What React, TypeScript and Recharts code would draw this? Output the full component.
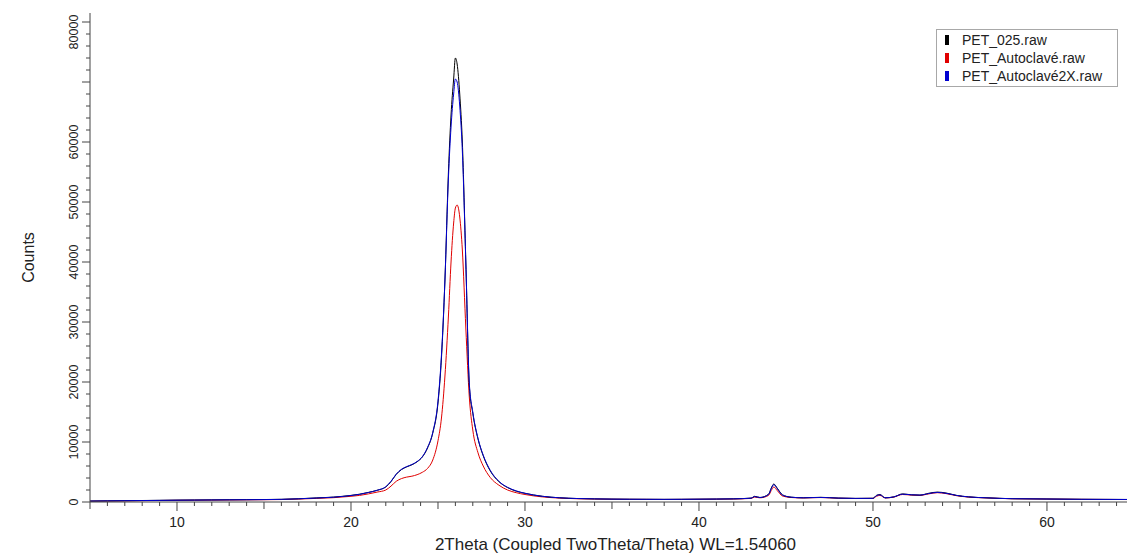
import { LineChart, Line, XAxis, YAxis } from 'recharts';

// 2Theta positions (deg) and counts
const twoTheta = [
  5, 6, 7, 8, 9, 10, 11, 12, 13, 14,
  15, 16, 17, 18, 19, 20, 20.5, 21, 21.5, 22,
  22.3, 22.6, 22.9, 23.2, 23.5, 23.8, 24.1, 24.4, 24.7, 25.0,
  25.2, 25.4, 25.6, 25.75, 25.9, 26.0, 26.1, 26.25, 26.4, 26.6,
  26.8, 27.0, 27.3, 27.6, 28.0, 28.5, 29.0, 29.5, 30, 31,
  32, 33, 34, 35, 36, 37, 38, 39, 40, 41,
  42, 43, 43.2, 43.5, 44.0, 44.15, 44.3, 44.5, 44.8, 45.3,
  46, 47, 48, 49, 50, 50.2, 50.4, 50.7, 51.2, 51.7,
  52.2, 52.7, 53.2, 53.7, 54.2, 54.8, 55.5, 56.5, 58, 60,
  62, 64.6,
];

const pet025 = [
  160, 190, 220, 250, 280, 310, 330, 350, 370, 390,
  410, 450, 540, 680, 820, 1100, 1300, 1600, 1950, 2500,
  3400, 4600, 5400, 5850, 6200, 6700, 7500, 9000, 11500, 16500,
  24000, 37000, 55000, 64500, 70500, 74000, 73000, 68000, 60000, 40000,
  19500, 14800, 10500, 7700, 5200, 3400, 2400, 1800, 1450, 950,
  700, 580, 520, 480, 460, 450, 440, 450, 470, 490,
  530, 650, 950, 750, 1300, 2300, 3000, 2300, 1200, 800,
  700, 780, 650, 600, 620, 1100, 1250, 700, 850, 1350,
  1200, 1150, 1450, 1650, 1500, 1100, 850, 700, 550, 500,
  450, 420,
];

const petAutoclave = [
  130, 160, 190, 220, 250, 280, 300, 320, 340, 360,
  380, 410, 490, 600, 720, 950, 1100, 1350, 1650, 2000,
  2650, 3450, 3900, 4150, 4300, 4550, 4950, 5600, 7000, 10200,
  14000, 21000, 31000, 40000, 46500, 49000, 49500, 47500, 42000, 29000,
  17500, 12000, 8200, 6000, 4100, 2800, 2000, 1550, 1250, 850,
  650, 540, 490, 460, 440, 430, 420, 430, 450, 470,
  500, 600, 820, 700, 1100, 1900, 2500, 1900, 1000, 750,
  680, 740, 630, 580, 600, 950, 1100, 680, 820, 1250,
  1150, 1100, 1350, 1550, 1400, 1050, 820, 680, 540, 490,
  440, 410,
];

const petAutoclave2x = [
  150, 180, 210, 240, 270, 300, 320, 340, 360, 380,
  400, 440, 530, 660, 800, 1080, 1280, 1580, 1950, 2550,
  3450, 4650, 5450, 5900, 6250, 6750, 7550, 9100, 11600, 16800,
  24500, 37000, 54000, 62500, 68000, 70500, 70000, 66000, 58500, 40000,
  19800, 15000, 10600, 7800, 5300, 3450, 2450, 1850, 1450, 950,
  700, 580, 520, 480, 460, 450, 440, 450, 470, 490,
  520, 640, 900, 750, 1250, 2200, 2900, 2200, 1150, 800,
  700, 760, 650, 600, 610, 1050, 1200, 700, 850, 1300,
  1200, 1150, 1400, 1600, 1450, 1100, 850, 700, 550, 500,
  450, 420,
];

const seriesNames = ['PET_025.raw', 'PET_Autoclavé.raw', 'PET_Autoclavé2X.raw'];
const seriesColors = ['#000000', '#e00000', '#0000d0'];

const xLabels = [10, 20, 30, 40, 50, 60];
const yLabels = [0, 10000, 20000, 30000, 40000, 50000, 60000, 80000];

// tick marks: one per degree, one per 2000 counts
const xTicks = Array.from({ length: 60 }, (_, i) => 5 + i);
const yTicks = Array.from({ length: 41 }, (_, i) => i * 2000);

const FONT = 'Arial, "Liberation Sans", sans-serif';
const AXIS = '#444';

const data = twoTheta.map((x, i) => ({
  x,
  a: pet025[i],
  b: petAutoclave[i],
  c: petAutoclave2x[i],
}));

function XTick({ x, y, payload }: any) {
  const v = payload.value;
  const len = v % 10 === 0 ? 9 : v % 5 === 0 ? 7 : 4;
  return (
    <g>
      <line x1={x} x2={x} y1={y} y2={y + len} stroke={AXIS} />
      {xLabels.includes(v) && (
        <text x={x} y={y + 25} textAnchor="middle" fontSize={14} fill="#222" fontFamily={FONT}>
          {v}
        </text>
      )}
    </g>
  );
}

function YTick({ x, y, payload }: any) {
  const v = payload.value;
  const len = v % 10000 === 0 ? 8 : 4;
  const cx = x - 16;
  const cy = Math.max(y, 32); // top label pushed down so it stays on the page
  return (
    <g>
      <line x1={x - len} x2={x} y1={y} y2={y} stroke={AXIS} />
      {yLabels.includes(v) && (
        <text
          x={cx}
          y={cy}
          transform={`rotate(-90 ${cx} ${cy})`}
          textAnchor="middle"
          dominantBaseline="central"
          fontSize={12.5}
          fill="#222"
          fontFamily={FONT}
        >
          {v}
        </text>
      )}
    </g>
  );
}

function CountsLabel({ viewBox }: any) {
  const cx = viewBox.x + 28;
  const cy = viewBox.y + viewBox.height / 2;
  return (
    <text
      x={cx}
      y={cy}
      transform={`rotate(-90 ${cx} ${cy})`}
      textAnchor="middle"
      dominantBaseline="central"
      fontSize={16}
      fill="#222"
      fontFamily={FONT}
    >
      Counts
    </text>
  );
}

function ThetaLabel({ viewBox }: any) {
  return (
    <text
      x={viewBox.x + viewBox.width / 2 + 7}
      y={viewBox.y + 48}
      textAnchor="middle"
      fontSize={17}
      fill="#222"
      fontFamily={FONT}
    >
      2Theta (Coupled TwoTheta/Theta) WL=1.54060
    </text>
  );
}

export default function App() {
  return (
    <div style={{ position: 'absolute', left: 0, top: 0, width: 1127, height: 555, background: '#fff' }}>
      <LineChart width={1127} height={555} data={data} margin={{ top: 13, right: 0, bottom: 0, left: 0 }}>
        <XAxis
          dataKey="x"
          type="number"
          domain={[5, 64.6]}
          allowDataOverflow
          ticks={xTicks}
          interval={0}
          tickSize={0}
          tickMargin={0}
          tickLine={false}
          tick={<XTick />}
          axisLine={{ stroke: AXIS }}
          height={53}
          label={<ThetaLabel />}
        />
        <YAxis
          type="number"
          domain={[0, 81500]}
          allowDataOverflow
          ticks={yTicks}
          interval={0}
          tickSize={0}
          tickMargin={0}
          tickLine={false}
          tick={<YTick />}
          axisLine={{ stroke: AXIS }}
          width={90}
          label={<CountsLabel />}
        />
        <Line dataKey="b" type="monotone" stroke={seriesColors[1]} strokeWidth={1} dot={false} isAnimationActive={false} />
        <Line dataKey="a" type="monotone" stroke={seriesColors[0]} strokeWidth={1} dot={false} isAnimationActive={false} />
        <Line dataKey="c" type="monotone" stroke={seriesColors[2]} strokeWidth={1} dot={false} isAnimationActive={false} />
      </LineChart>
      <div
        style={{
          position: 'absolute',
          left: 936,
          top: 29,
          width: 180,
          border: '1px solid #a8a8a8',
          background: '#fff',
          fontFamily: FONT,
          fontSize: 14,
          color: '#222',
          padding: '1px 0',
        }}
      >
        {seriesNames.map((name, i) => (
          <div key={name} style={{ display: 'flex', alignItems: 'center', height: 18 }}>
            <span style={{ display: 'inline-block', width: 4, height: 10, background: seriesColors[i], marginLeft: 8, marginRight: 13 }} />
            <span>{name}</span>
          </div>
        ))}
      </div>
    </div>
  );
}
